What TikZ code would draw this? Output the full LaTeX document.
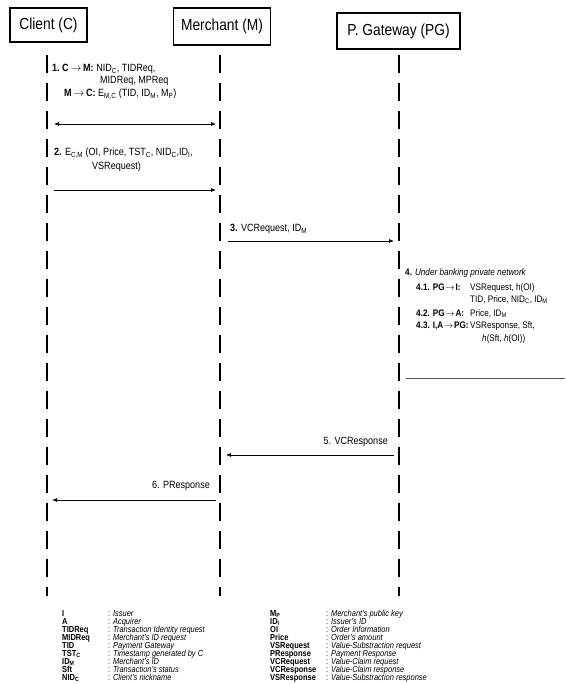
\documentclass[tikz,border=0pt]{standalone}
\usepackage{fontspec}
\setmainfont[FakeStretch=0.86]{Liberation Sans}
\usetikzlibrary{arrows.meta}
\newcommand\sbs[1]{\textsubscript{#1}}
\newcommand\rarr{\,$\rightarrow$\,}
\newcommand\rarrs{\kern0.8pt$\rightarrow$\kern0.8pt}
\begin{document}
\begin{tikzpicture}[x=1pt,y=-1pt,
  actor/.style={draw, line width=1.4pt, inner sep=0pt, font=\fontsize{16}{18}\selectfont},
  life/.style={line width=2.8pt, dash pattern=on 18pt off 10pt},
  msg/.style={line width=0.7pt, -{Latex[length=5pt,width=4pt]}},
  lbl/.style={anchor=base west, inner sep=0pt, font=\fontsize{10.5}{12}\selectfont},
  lblf/.style={anchor=base west, inner sep=0pt, font=\fontsize{9.5}{11}\selectfont},
  lblr/.style={anchor=base east, inner sep=0pt, font=\fontsize{10.5}{12}\selectfont},
  leg/.style={anchor=base west, inner sep=0pt, font=\fontsize{8.7}{10}\selectfont}]
\useasboundingbox (0,0) rectangle (565,684);
\fill[white] (0,0) rectangle (565,684);

% actors
\node[actor, minimum width=77pt, minimum height=34pt] (C) at (48.5,25) {Client (C)};
\node[actor, minimum width=97pt, minimum height=37pt] (M) at (222,26.5) {Merchant (M)};
\node[actor, minimum width=123pt, minimum height=36pt] (PG) at (398.5,31) {P. Gateway (PG)};

% lifelines
\coordinate (Ct) at (47,55);  \coordinate (Cb) at (47,596);
\coordinate (Mt) at (220,55); \coordinate (Mb) at (220,596);
\coordinate (Pt) at (399,55); \coordinate (Pb) at (399,596);
\draw[life] (Ct) -- (Cb);
\draw[life] (Mt) -- (Mb);
\draw[life] (Pt) -- (Pb);

% message 1
\node[lbl] (t1a) at (52,72) {\textbf{1.\ C\rarr M:} NID\sbs{C}, TIDReq,};
\node[lbl] (t1b) at (100,84) {MIDReq, MPReq};
\node[lbl] (t1c) at (64,97) {\textbf{M\rarr C:} E\sbs{M,C} (TID, ID\sbs{M}, M\sbs{P})};
\coordinate (m1a) at (54,124); \coordinate (m1b) at (216,124);
\draw[msg, {Latex[length=5pt,width=4pt]}-{Latex[length=5pt,width=4pt]}] (m1a) -- (m1b);

% message 2
\node[lbl] (t2a) at (54,156) {\textbf{2.} E\sbs{C,M} (OI, Price, TST\sbs{C}, NID\sbs{C},ID\sbs{I},};
\node[lbl] (t2b) at (92,170) {VSRequest)};
\coordinate (m2a) at (54,190); \coordinate (m2b) at (216,190);
\draw[msg] (m2a) -- (m2b);

% message 3
\node[lbl] (t3) at (230,232) {\textbf{3.} VCRequest, ID\sbs{M}};
\coordinate (m3a) at (228,241); \coordinate (m3b) at (394,241);
\draw[msg] (m3a) -- (m3b);

% section 4
\node[lblf] (t4) at (405,276) {\textbf{4.} \textit{Under banking private network}};
\node[lblf] (t41) at (416,290) {\textbf{4.1. PG\rarrs I:}};
\node[lblf] (t41b) at (470,290) {VSRequest, h(OI)};
\node[lblf] (t41c) at (470,302) {TID, Price, NID\sbs{C}, ID\sbs{M}};
\node[lblf] (t42) at (416,316) {\textbf{4.2. PG\rarrs A:}};
\node[lblf] (t42b) at (470,316) {Price, ID\sbs{M}};
\node[lblf] (t43) at (416,328) {\textbf{4.3. I,A\rarrs PG:}};
\node[lblf] (t43b) at (470,328) {VSResponse, Sft,};
\node[lblf] (t43c) at (482,341) {\textit{h}(Sft, \textit{h}(OI))};
\coordinate (s4a) at (406,378); \coordinate (s4b) at (565,378);
\draw[line width=0.8pt, gray!70!black] (s4a) -- (s4b);

% message 5
\node[lblr] (t5) at (388,444) {5. VCResponse};
\coordinate (m5a) at (394,455); \coordinate (m5b) at (226,455);
\draw[msg] (m5a) -- (m5b);

% message 6
\node[lblr] (t6) at (210,488) {6. PResponse};
\coordinate (m6a) at (216,500); \coordinate (m6b) at (52,500);
\draw[msg] (m6a) -- (m6b);

% legend
\foreach \k/\d [count=\i from 0] in {
  I/Issuer,
  A/Acquirer,
  TIDReq/Transaction Identity request,
  MIDReq/Merchant's ID request,
  TID/Payment Gateway,
  TST\sbs{C}/Timestamp generated by C,
  ID\sbs{M}/Merchant's ID,
  Sft/Transaction's status,
  NID\sbs{C}/Client's nickname}{
  \node[leg] (lk\i) at (62,{616+8*\i}) {\textbf{\k}};
  \node[leg] (ld\i) at (108,{616+8*\i}) {: \textit{\d}};
}
\foreach \k/\d [count=\i from 0] in {
  M\sbs{P}/Merchant's public key,
  ID\sbs{I}/Issuer's ID,
  OI/Order Information,
  Price/Order's amount,
  VSRequest/Value-Substraction request,
  PResponse/Payment Response,
  VCRequest/Value-Claim request,
  VCResponse/Value-Claim response,
  VSResponse/Value-Substraction response}{
  \node[leg] (rk\i) at (270,{616+8*\i}) {\textbf{\k}};
  \node[leg] (rd\i) at (326,{616+8*\i}) {: \textit{\d}};
}
\end{tikzpicture}
\end{document}
